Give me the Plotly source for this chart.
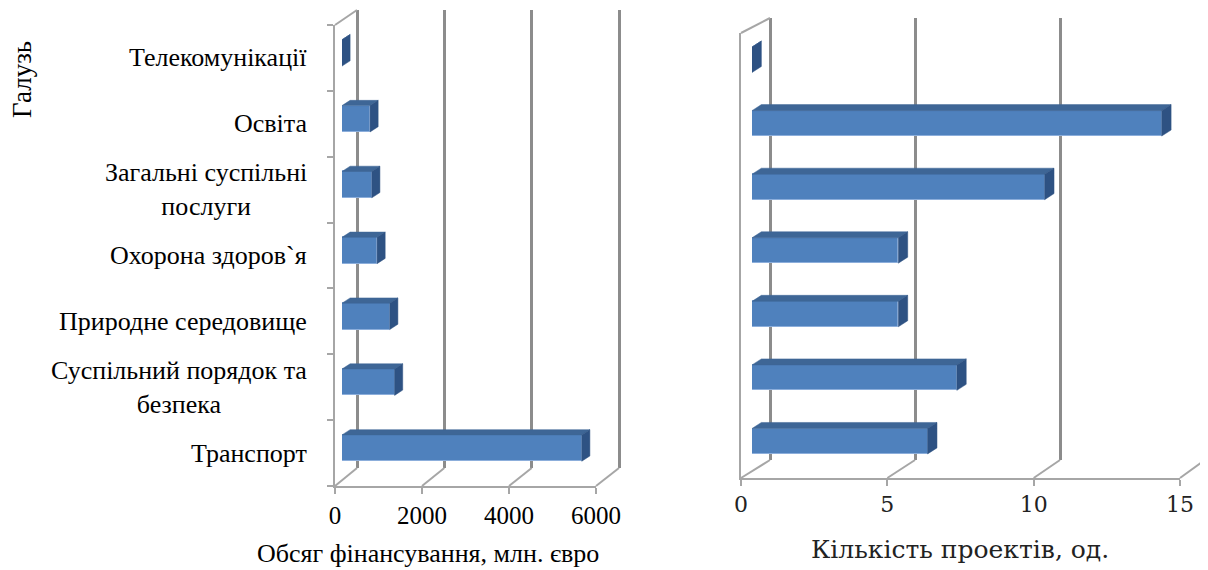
import plotly.graph_objects as go

# ---------------- data ----------------
categories = ["Транспорт", "Суспільний порядок та<br>безпека", "Природне середовище",
              "Охорона здоров`я", "Загальні суспільні<br>послуги", "Освіта", "Телекомунікації"]
funding = [5470, 1200, 1090, 800, 680, 640, 0]      # млн. євро
projects = [6, 7, 5, 5, 10, 14, 0]                  # од.
funding_ticks = [0, 2000, 4000, 6000]
projects_ticks = [0, 5, 10, 15]
funding_title = "Обсяг фінансування, млн. євро"
projects_title = "Кількість проектів, од."
y_title = "Галузь"

# the page body has an 8px margin; the figure fills the rest of the 1208x570 window
OFF = 8
W, H = 1208 - OFF, 570 - OFF
def px(x): return (x - OFF) / W
def py(y): return 1 - (y - OFF) / H

FRONT = "#4F81BD"
TOP = "#3E6696"
SIDE = "#2E5283"
GRID = "#8C8C8C"
FRAME = "#A6A6A6"
SERIF = "Liberation Serif, Times New Roman, serif"
SERIF2 = "DejaVu Serif, serif"

fig = go.Figure()
idx = list(range(len(categories)))

def faces(values, dx, dy, h, xa, ya):
    tx, ty, sx, sy = [], [], [], []
    for i, v in zip(idx, values):
        t = i + h / 2
        b = i - h / 2
        tx += [0, v, v + dx, dx, 0, None]
        ty += [t, t, t + dy, t + dy, t, None]
        sx += [v, v, v + dx, v + dx, v, None]
        sy += [b, t, t + dy, b + dy, b, None]
    fig.add_trace(go.Scatter(x=tx, y=ty, fill="toself", fillcolor=TOP, mode="lines",
                             line=dict(color=TOP, width=0.5), xaxis=xa, yaxis=ya,
                             hoverinfo="skip", showlegend=False))
    fig.add_trace(go.Scatter(x=sx, y=sy, fill="toself", fillcolor=SIDE, mode="lines",
                             line=dict(color=SIDE, width=0.5), xaxis=xa, yaxis=ya,
                             hoverinfo="skip", showlegend=False))

# dummy traces to materialise frame axes
for xa, ya in [("x", "y"), ("x2", "y2"), ("x4", "y4"), ("x5", "y5")]:
    fig.add_trace(go.Scatter(x=[None], y=[None], xaxis=xa, yaxis=ya, showlegend=False,
                             hoverinfo="skip"))

# bars
fig.add_trace(go.Bar(x=funding, y=idx, orientation="h", width=0.4, xaxis="x3", yaxis="y3",
                     marker=dict(color=FRONT, line=dict(color="#8CAEDB", width=1)),
                     showlegend=False, hovertemplate="%{x}<extra></extra>"))
faces(funding, 185, 0.08, 0.4, "x3", "y3")
fig.add_trace(go.Bar(x=projects, y=idx, orientation="h", width=0.4, xaxis="x6", yaxis="y6",
                     marker=dict(color=FRONT, line=dict(color="#8CAEDB", width=1)),
                     showlegend=False, hovertemplate="%{x}<extra></extra>"))
faces(projects, 0.32, 0.095, 0.4, "x6", "y6")

# panel geometry (pixels in the 1208x570 window)
L = dict(fx0=335, fx1=596, fy=486, ft=25, bx0=357, bx1=619, by=468, bt=10,
         barx0=342, barx1=605, bary0=481, bary1=20, rng=6000, ticks=funding_ticks, pad=3)
R = dict(fx0=741, fx1=1180, fy=478, ft=33, bx0=770, bx1=1205, by=460, bt=18,
         barx0=752, barx1=1191, bary0=473, bary1=28, rng=15, ticks=projects_ticks, pad=3)

ycat_range = [-0.5, len(categories) - 0.5]
lay = dict(template="none", width=W, height=H, margin=dict(l=0, r=0, t=0, b=0, pad=0),
           plot_bgcolor="rgba(0,0,0,0)", paper_bgcolor="white", bargap=0, showlegend=False)

def panel(P, xf, yf, xb, yb, xr, yr, tickfont, minor):
    lay[xf] = dict(domain=[px(P["fx0"]), px(P["fx1"])], range=[0, P["rng"]],
                   anchor=yf.replace("axis", ""), tickvals=P["ticks"], ticks="outside",
                   ticklen=6, tickwidth=2, tickcolor=FRAME, showline=True, linecolor=FRAME,
                   linewidth=2, showgrid=False, zeroline=False, tickfont=tickfont,
                   automargin=False)
    ydict = dict(domain=[py(P["fy"]), py(P["ft"])], range=ycat_range,
                 anchor=xf.replace("axis", ""), showline=True, linecolor=FRAME, linewidth=2,
                 showgrid=False, zeroline=False, showticklabels=False, ticks="",
                 automargin=False)
    if minor:
        ydict["minor"] = dict(tickvals=[i - 0.5 for i in range(len(categories) + 1)],
                              ticks="outside", ticklen=6, tickwidth=2, tickcolor=FRAME,
                              showgrid=False)
    lay[yf] = ydict
    # back plane: range padded by a few pixels so that edge grid lines are drawn too
    s = (P["bx1"] - P["bx0"]) / P["rng"]
    e = P["pad"] / s
    lay[xb] = dict(domain=[px(P["bx0"] - P["pad"]), min(1.0, px(P["bx1"] + P["pad"]))],
                   range=[-e, P["rng"] + e],
                   anchor=yb.replace("axis", ""), tickvals=P["ticks"], showticklabels=False,
                   showgrid=True, gridcolor=GRID, gridwidth=2.5, zeroline=False,
                   showline=False, ticks="", automargin=False)
    lay[yb] = dict(domain=[py(P["by"]), py(P["bt"])], range=ycat_range,
                   anchor=xb.replace("axis", ""), showgrid=False, zeroline=False,
                   showticklabels=False, ticks="", showline=False, automargin=False)
    lay[xr] = dict(domain=[px(P["barx0"]), px(P["barx1"])], range=[0, P["rng"]],
                   anchor=yr.replace("axis", ""), visible=False, automargin=False)
    lay[yr] = dict(domain=[py(P["bary0"]), py(P["bary1"])], range=ycat_range,
                   anchor=xr.replace("axis", ""), visible=False, automargin=False)

panel(L, "xaxis", "yaxis", "xaxis2", "yaxis2", "xaxis3", "yaxis3",
      dict(family=SERIF, size=25, color="black"), True)
panel(R, "xaxis4", "yaxis4", "xaxis5", "yaxis5", "xaxis6", "yaxis6",
      dict(family=SERIF2, size=22, color="#222"), False)
fig.update_layout(**lay)

shapes = []
for P in (L, R):
    # wall top edge
    shapes.append(dict(type="line", xref="paper", yref="paper",
                       x0=px(P["fx0"]), y0=py(P["ft"]), x1=px(P["bx0"]), y1=py(P["bt"]),
                       line=dict(color=FRAME, width=2)))
    # floor diagonals at each tick
    for t in P["ticks"]:
        f = P["fx0"] + t / P["rng"] * (P["fx1"] - P["fx0"])
        b = P["bx0"] + t / P["rng"] * (P["bx1"] - P["bx0"])
        shapes.append(dict(type="line", xref="paper", yref="paper",
                           x0=px(f), y0=py(P["fy"]), x1=px(b), y1=py(P["by"]),
                           line=dict(color=FRAME, width=2)))
fig.update_layout(shapes=shapes)

annotations = []
for i, c in zip(idx, categories):
    annotations.append(dict(text=c, x=px(309), xref="paper", xanchor="right",
                            y=i, yref="y", yanchor="middle", align="center",
                            showarrow=False, font=dict(family=SERIF, size=26, color="black")))
annotations.append(dict(text=funding_title, x=px(428), y=py(553), xref="paper", yref="paper",
                        xanchor="center", yanchor="middle",
                        showarrow=False, font=dict(family=SERIF, size=26, color="black")))
annotations.append(dict(text=projects_title, x=px(960), y=py(549), xref="paper", yref="paper",
                        xanchor="center", yanchor="middle",
                        showarrow=False, font=dict(family=SERIF2, size=25, color="#222")))
annotations.append(dict(text=y_title, x=px(22), y=py(80), xref="paper", yref="paper",
                        xanchor="center", yanchor="middle", textangle=-90, showarrow=False,
                        font=dict(family=SERIF, size=27, color="black")))
fig.update_layout(annotations=annotations)

fig.write_html("out.html")
